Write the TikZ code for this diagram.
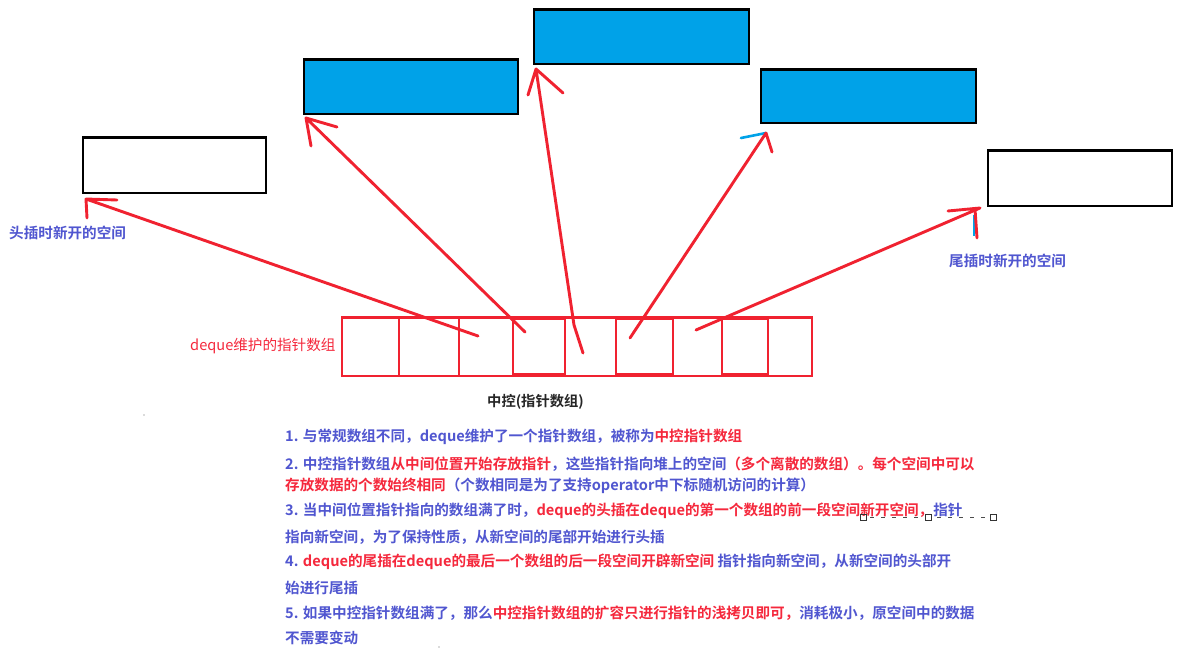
\documentclass[tikz,border=0pt]{standalone}
\usepackage{fontspec}
\setmainfont{Noto Sans CJK SC}[BoldFont={* Bold}]
\definecolor{rd}{RGB}{240,34,48}
\definecolor{bl}{RGB}{0,162,232}
\definecolor{tb}{RGB}{80,86,208}
\definecolor{tr}{RGB}{245,40,60}
\tikzset{
  blackbox/.style={draw=black,line width=2.7pt,fill=white},
  bluebox/.style={draw=black,line width=2.7pt,fill=bl},
  cellbox/.style={draw=rd,line width=2.8pt,fill=none},
  cellline/.style={draw=rd,line width=2.8pt},
  stroke/.style={draw=rd,line width=2.9pt,line cap=round,line join=round},
  txt/.style={anchor=west,inner sep=0pt,font=\fontsize{14.6}{16}\selectfont\bfseries,text=tb},
  lab/.style={anchor=west,inner sep=0pt,font=\fontsize{14.6}{16}\selectfont,text=tb},
}
\newcommand{\R}[1]{\textcolor{tr}{#1}}
\begin{document}
\begin{tikzpicture}[x=1pt,y=-1pt]
\useasboundingbox (0,0) rectangle (1192,658);
\fill[white] (0,0) rectangle (1192,658);
\foreach \n/\a/\b/\c/\d/\s in {bA/83/137.5/266/193/blackbox,bB/304/59.5/518/114/bluebox,bC/534/9.5/749/64/bluebox,bD/761/69.5/976/123/bluebox,bE/988/150.5/1172/206/blackbox}{
  \path[\s,draw] (\a,\b) rectangle (\c,\d);
  \coordinate (\n) at (\a,\b);
}
% cells
\path[cellbox,draw] (342,317.5) rectangle (812,376);
\foreach \x in {399,459,513,565,616,673,722,768}{\draw[cellline] (\x,317.5) -- (\x,376);}
\draw[draw=rd,line width=1.8pt] (513,319.5) -- (565,319.5) (513,374) -- (565,374) (616,319.5) -- (673,319.5) (616,374) -- (673,374) (722,319.5) -- (768,319.5) (722,374) -- (768,374);
% arrows
\coordinate (s1) at (478,336); \coordinate (t1) at (86,199);
\coordinate (s2) at (525,332); \coordinate (t2) at (306,118);
\coordinate (s3) at (583,353); \coordinate (m3) at (574,325); \coordinate (t3) at (536,69);
\coordinate (s4) at (630,338); \coordinate (t4) at (766,133);
\coordinate (s5) at (696,330); \coordinate (t5) at (980,208);
\draw[draw=bl,line width=2.6pt,line cap=round] (741,138) -- (t4);
\draw[draw=bl,line width=2pt] (973.5,215) -- (973.5,236);
\draw[stroke] (s1) -- (t1) (t1) -- (117,200) (t1) -- (87,218);
\draw[stroke] (s2) -- (t2) (t2) -- (337,127) (t2) -- (311,146);
\draw[stroke] (s3) -- (m3) -- (t3) (t3) -- (563,93) (t3) -- (528,95);
\draw[stroke] (s4) -- (t4) (t4) -- (772,152);
\draw[stroke] (s5) -- (t5) (t5) -- (948,211) (975,209) -- (977,238);
% labels
\node[lab,font=\fontsize{14.6}{16}\selectfont\bfseries] (l1) at (9,233) {头插时新开的空间};
\node[lab,font=\fontsize{14.6}{16}\selectfont\bfseries] (l2) at (949,261) {尾插时新开的空间};
\node[lab,text=tr] (l3) at (190,346) {deque维护的指针数组};
\node[anchor=west,inner sep=0pt,font=\fontsize{14.3}{16}\selectfont\bfseries,text=black!85] (l4) at (487,402) {中控(指针数组)};
% text
\node[txt] (p1) at (285,437) {1. 与常规数组不同，deque维护了一个指针数组，被称为\R{中控指针数组}};
\node[txt] (p2) at (285,464) {2. 中控指针数组\R{从中间位置开始存放指针}，这些指针指向堆上的空间\R{（多个离散的数组）。每个空间中可以}};
\node[txt] (p3) at (285,486) {\R{存放数据的个数始终相同}（个数相同是为了支持operator中下标随机访问的计算）};
\node[txt] (p4) at (285,511) {3. 当中间位置指针指向的数组满了时，\R{deque的头插在deque的第一个数组的前一段空间新开空间，}指针};
\node[txt] (p5) at (285,537) {指向新空间，为了保持性质，从新空间的尾部开始进行头插};
\node[txt] (p6) at (285,562) {4. \R{deque的尾插在deque的最后一个数组的后一段空间开辟新空间} 指针指向新空间，从新空间的头部开};
\node[txt] (p7) at (285,588) {始进行尾插};
\node[txt] (p8) at (285,613) {5. 如果中控指针数组满了，那么\R{中控指针数组的扩容只进行指针的浅拷贝即可，}消耗极小，原空间中的数据};
\node[txt] (p9) at (285,638) {不需要变动};
% selection handles
\foreach \x in {863,928,993}{\draw[black!80,line width=.9pt] (\x-3,514) rectangle (\x+3,520);}
\draw[black!70,line width=1pt,dash pattern=on 4pt off 7pt] (870,517) -- (925,517) (937,517) -- (990,517);
\fill[black!60] (144,415) circle (.7) (439,647) circle (.7);
\end{tikzpicture}
\end{document}
